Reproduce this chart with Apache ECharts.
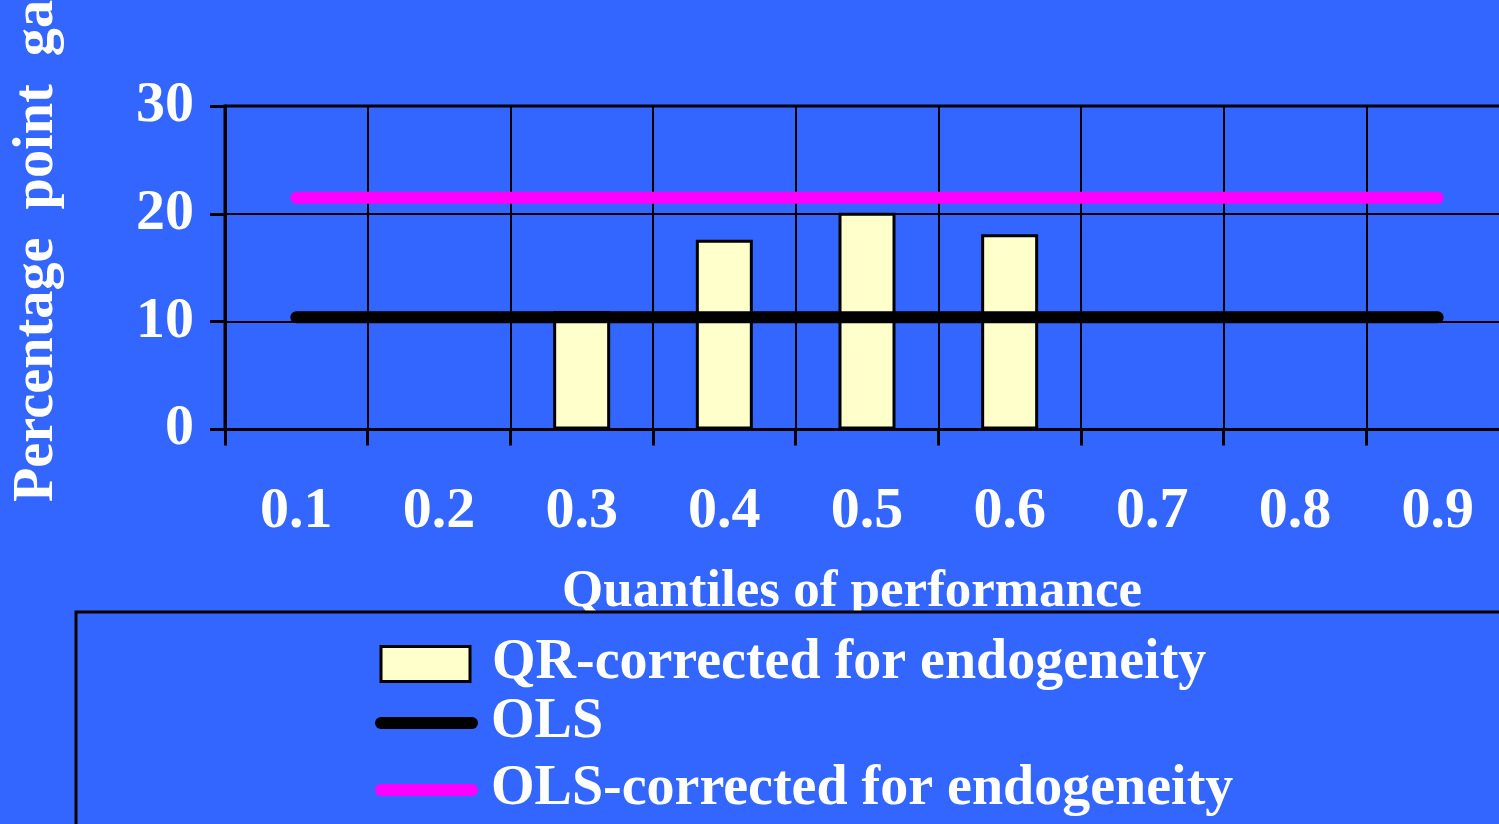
<!DOCTYPE html>
<html>
<head>
<meta charset="utf-8">
<script src="https://cdn.jsdelivr.net/npm/echarts@6/dist/echarts.min.js"></script>
<style>
html,body{margin:0;padding:0;background:#3366FF;}
#chart{width:1499px;height:824px;}
</style>
</head>
<body>
<div id="chart"></div>
<script>
const categories = ['0.1','0.2','0.3','0.4','0.5','0.6','0.7','0.8','0.9'];
const qrCorrected = [null, null, 11.0, 17.6, 20.1, 18.1, null, null, null];
const ols = [10.4, 10.4, 10.4, 10.4, 10.4, 10.4, 10.4, 10.4, 10.4];
const olsCorrected = [21.5, 21.5, 21.5, 21.5, 21.5, 21.5, 21.5, 21.5, 21.5];
const seriesNames = ['QR-corrected for endogeneity', 'OLS', 'OLS-corrected for endogeneity'];
const yTitle = 'Percentage  point  gap';
const xTitle = 'Quantiles of performance';

const FONT = "'Liberation Serif','Times New Roman',serif";
const chart = echarts.init(document.getElementById('chart'), null, {renderer:'canvas'});

const legendText = {color:'#fff', fontFamily:FONT, fontWeight:'bold', fontSize:56, lineHeight:60};

chart.setOption({
  animation:false,
  backgroundColor:'#3366FF',
  grid:{left:225, top:106, width:1284, bottom:394.5, outerBoundsMode:'none', containLabel:false,
        show:true, borderColor:'#000', borderWidth:3, backgroundColor:'transparent'},
  xAxis:{
    type:'category', data:categories, boundaryGap:true,
    axisLine:{show:true, lineStyle:{color:'#000', width:3}},
    axisTick:{show:true, length:16, lineStyle:{color:'#000', width:3}},
    splitLine:{show:true, interval:0, lineStyle:{color:'#000', width:2}},
    axisLabel:{color:'#fff', fontFamily:FONT, fontWeight:'bold', fontSize:58, margin:83, verticalAlign:'middle', interval:0},
    name:xTitle, nameLocation:'middle', nameGap:136,
    nameTextStyle:{color:'#fff', fontFamily:FONT, fontWeight:'bold', fontSize:53, lineHeight:54, verticalAlign:'top', padding:[0,30,0,0]}
  },
  yAxis:{
    type:'value', min:0, max:30, interval:10,
    axisLine:{show:true, lineStyle:{color:'#000', width:3}},
    axisTick:{show:true, length:15, lineStyle:{color:'#000', width:3}},
    splitLine:{show:true, lineStyle:{color:'#000', width:2}},
    axisLabel:{color:'#fff', fontFamily:FONT, fontWeight:'bold', fontSize:58, margin:31}
  },
  legend:[
    {data:[{name:seriesNames[0], icon:'rect', itemStyle:{color:'#FFFFCC', borderColor:'#000', borderWidth:3}}],
     left:379.5, top:634, padding:0, itemWidth:89, itemHeight:35, selectedMode:false, z:20,
     textStyle:Object.assign({}, legendText, {padding:[0,0,0,17]})},
    {data:[{name:seriesNames[1], icon:'path://M6,0H97A6,6 0 0 1 97,12H6A6,6 0 0 1 6,0Z', itemStyle:{color:'#000', borderWidth:0}}],
     left:375, top:693, padding:0, itemWidth:103, itemHeight:12, selectedMode:false, z:20,
     textStyle:Object.assign({}, legendText, {padding:[0,0,0,8]})},
    {data:[{name:seriesNames[2], icon:'path://M6,0H97A6,6 0 0 1 97,12H6A6,6 0 0 1 6,0Z', itemStyle:{color:'#FF00FF', borderWidth:0}}],
     left:375, top:760, padding:0, itemWidth:103, itemHeight:12, selectedMode:false, z:20,
     textStyle:Object.assign({}, legendText, {padding:[0,0,0,8]})}
  ],
  graphic:[
    {type:'rect', z:15, shape:{x:76, y:612, width:1500, height:300},
     style:{fill:'#3366FF', stroke:'#000', lineWidth:3}},
    {type:'text', z:15, x:37, y:502, rotation:Math.PI/2, scaleX:0.97,
     style:{text:yTitle, fill:'#fff', font:"bold 58px 'Liberation Serif','Times New Roman',serif", textAlign:'left', textVerticalAlign:'middle'}}
  ],
  series:[
    {name:seriesNames[0], type:'bar', data:qrCorrected, barWidth:57, z:2,
     itemStyle:{color:'#FFFFCC', borderColor:'#000', borderWidth:3}},
    {name:seriesNames[1], type:'line', data:ols, z:3, showSymbol:false, symbol:'none',
     lineStyle:{color:'#000', width:12, cap:'round'}, itemStyle:{color:'#000'}},
    {name:seriesNames[2], type:'line', data:olsCorrected, z:3, showSymbol:false, symbol:'none',
     lineStyle:{color:'#FF00FF', width:12, cap:'round'}, itemStyle:{color:'#FF00FF'}}
  ]
});
</script>
</body>
</html>
